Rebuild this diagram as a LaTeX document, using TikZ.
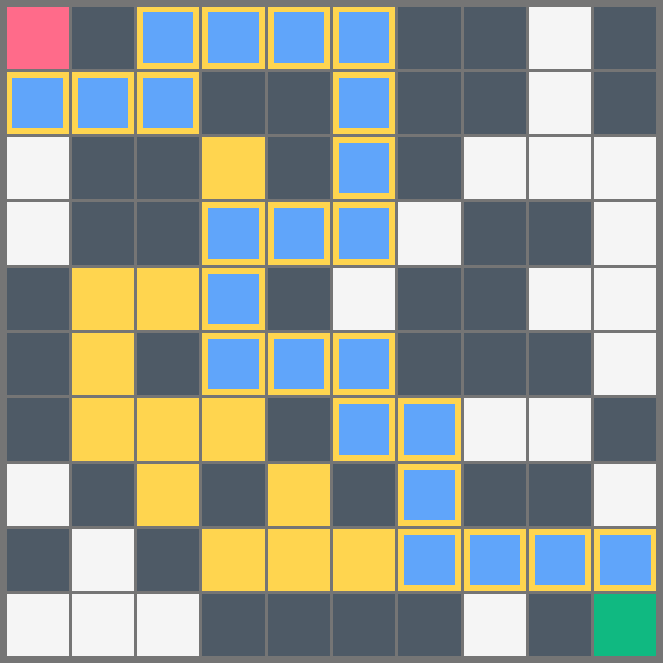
\documentclass[tikz,border=0pt]{standalone}
\usepackage{tikz}

\definecolor{gridgray}{HTML}{757575}
\definecolor{wallc}{HTML}{4E5A66}
\definecolor{openc}{HTML}{F5F5F5}
\definecolor{visitc}{HTML}{FFD54F}
\definecolor{pathc}{HTML}{60A5FA}
\definecolor{startc}{HTML}{FF6B8A}
\definecolor{goalc}{HTML}{10B981}

\tikzset{
  sqw/.style={fill=openc},
  sqd/.style={fill=wallc},
  sqy/.style={fill=visitc},
  sqb/.style={fill=visitc},
  sqs/.style={fill=startc},
  sqg/.style={fill=goalc},
}

\begin{document}
\begin{tikzpicture}
    % Background (grid lines)
    \fill[gridgray] (0,0) rectangle (10.15,10.15);

    % Cells, row by row from the top
    \foreach \r/\row in {
        0/{s,d,b,b,b,b,d,d,w,d},
        1/{b,b,b,d,d,b,d,d,w,d},
        2/{w,d,d,y,d,b,d,w,w,w},
        3/{w,d,d,b,b,b,w,d,d,w},
        4/{d,y,y,b,d,w,d,d,w,w},
        5/{d,y,d,b,b,b,d,d,d,w},
        6/{d,y,y,y,d,b,b,w,w,d},
        7/{w,d,y,d,y,d,b,d,d,w},
        8/{d,w,d,y,y,y,b,b,b,b},
        9/{w,w,w,d,d,d,d,w,d,g}}
    {
        \foreach \c [count=\i from 0] in \row
            \fill[sq\c] (0.1+\i, 9.1-\r) rectangle ++(0.95,0.95);
    }

    % Path cells: blue inside a yellow frame
    \foreach \r/\i in {1/0,1/1,1/2,0/2,0/3,0/4,0/5,1/5,2/5,3/5,3/4,3/3,
                       4/3,5/3,5/4,5/5,6/5,6/6,7/6,8/6,8/7,8/8,8/9}
        \fill[pathc] (0.19+\i, 9.19-\r) rectangle ++(0.77,0.77);
\end{tikzpicture}
\end{document}
